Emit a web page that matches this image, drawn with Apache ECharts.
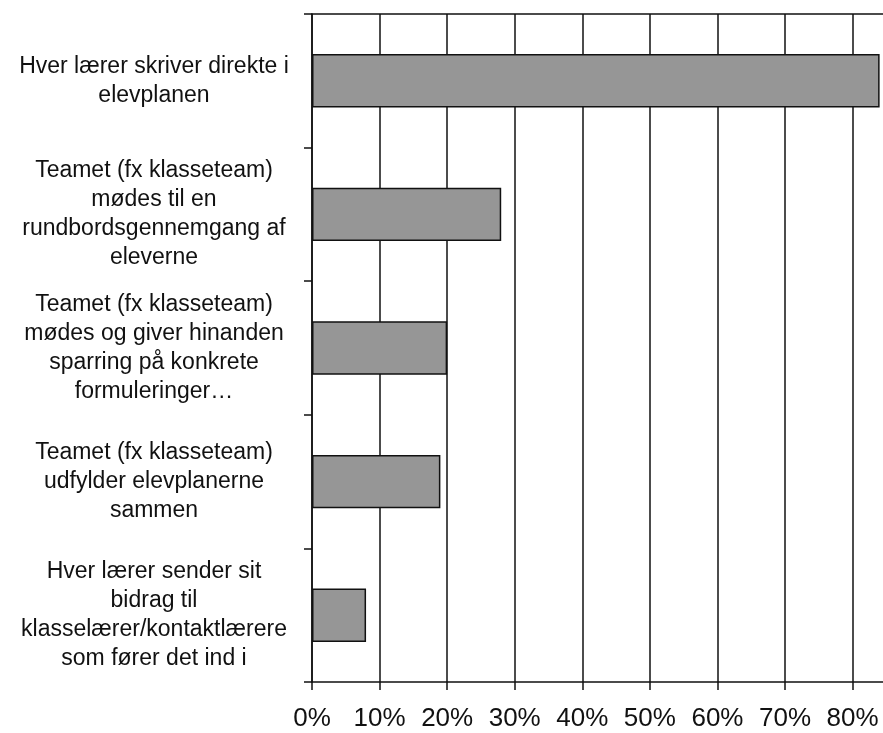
<!DOCTYPE html>
<html>
<head>
<meta charset="utf-8">
<script src="https://cdn.jsdelivr.net/npm/echarts@6/dist/echarts.min.js"></script>
<style>
    html, body { margin: 0; padding: 0; background: #fff; }
    #chart { width: 883px; height: 733px; }
</style>
</head>
<body>
<div id="chart"></div>
<script>
    // categories, top to bottom
    let categories = [
        'Hver lærer skriver direkte i\nelevplanen',
        'Teamet (fx klasseteam)\nmødes til en\nrundbordsgennemgang af\neleverne',
        'Teamet (fx klasseteam)\nmødes og giver hinanden\nsparring på konkrete\nformuleringer…',
        'Teamet (fx klasseteam)\nudfylder elevplanerne\nsammen',
        'Hver lærer sender sit\nbidrag til\nklasselærer/kontaktlærere\nsom fører det ind i'
    ]
    let values = [84, 28, 20, 19, 8]

    let chart = echarts.init(document.getElementById('chart'))
    let option = {
        animation: false,
        grid: {
            left: 312,
            top: 14,
            height: 668,
            right: 0
        },
        xAxis: [{
            type: 'value',
            min: 0,
            max: 84.5,
            interval: 10,
            axisLine: { show: true, lineStyle: { color: '#111', width: 1.5 } },
            axisTick: { show: true, length: 8, lineStyle: { color: '#111', width: 1.5 } },
            splitLine: { show: true, showMaxLine: false, lineStyle: { color: '#111', width: 1.5 } },
            axisLabel: {
                formatter: '{value}%',
                showMaxLabel: false,
                color: '#111',
                fontFamily: 'Liberation Sans, Arial, sans-serif',
                fontSize: 26,
                margin: 24
            }
        }, {
            type: 'value',
            position: 'top',
            min: 0,
            max: 84.5,
            axisLine: { show: true, lineStyle: { color: '#111', width: 1.5 } },
            axisTick: { show: false },
            splitLine: { show: false },
            axisLabel: { show: false }
        }],
        yAxis: {
            type: 'category',
            inverse: true,
            data: categories,
            axisLine: { show: true, lineStyle: { color: '#111', width: 1.5 } },
            axisTick: { show: true, length: 8, lineStyle: { color: '#111', width: 1.5 } },
            axisLabel: {
                interval: 0,
                align: 'center',
                margin: 158,
                color: '#111',
                fontFamily: 'Liberation Sans, Arial, sans-serif',
                fontSize: 23,
                lineHeight: 29
            }
        },
        series: [{
            type: 'bar',
            data: values,
            barCategoryGap: '60%',
            itemStyle: {
                color: '#969696',
                borderColor: '#111',
                borderWidth: 1.5
            }
        }]
    }
    chart.setOption(option)
</script>
</body>
</html>
